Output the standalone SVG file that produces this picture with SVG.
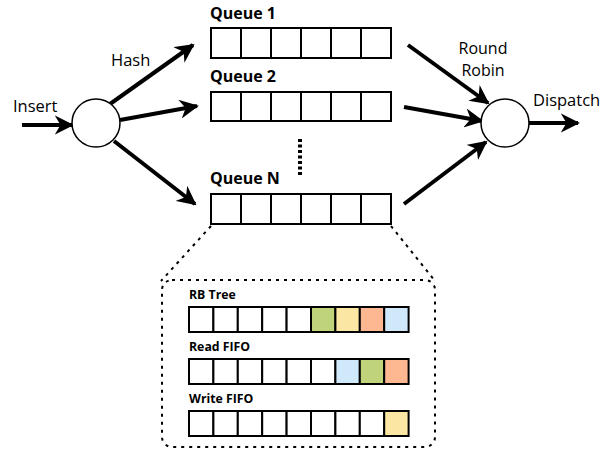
<svg xmlns="http://www.w3.org/2000/svg" width="613" height="451" viewBox="0 0 613 451">
  <defs>
    <marker id="ah" viewBox="0 0 10 10" refX="9" refY="5" markerWidth="4.8" markerHeight="4.8" markerUnits="strokeWidth" orient="auto">
      <path d="M0,0 L10,5 L0,10 L3,5 Z" fill="#000"/>
    </marker>
  </defs>
  <style>
    .lbl { font-family: "Open Sans", "Noto Sans", sans-serif; font-size: 16.5px; fill: #000; }
    .rr { font-size: 16px; }
    .qname { font-family: "Open Sans", "Noto Sans", sans-serif; font-size: 16px; font-weight: bold; fill: #000; }
    .sname { font-family: "Open Sans", "Noto Sans", sans-serif; font-size: 12.3px; font-weight: bold; fill: #000; }
    .cell { fill: #fff; stroke: #000; stroke-width: 2; }
    .scell { fill: #fff; stroke: #000; stroke-width: 2; }
    .node { fill: #fff; stroke: #000; stroke-width: 1.5; }
    .arr { stroke: #000; stroke-width: 4; fill: none; marker-end: url(#ah); }
    .dot { stroke: #000; stroke-width: 2; fill: none; stroke-dasharray: 3 5; }
    .g { fill: #bfd47a; } .y { fill: #fbe6a3; } .o { fill: #fdb891; } .b { fill: #cfe9fb; }
  </style>

  <!-- connectors -->
  <g id="connectors">
    <line class="arr" x1="22" y1="125" x2="72" y2="125"/>
    <line class="arr" x1="110" y1="104" x2="193" y2="45"/>
    <line class="arr" x1="120" y1="120" x2="197" y2="106"/>
    <line class="arr" x1="114" y1="141" x2="195" y2="204"/>
    <line class="arr" x1="408" y1="45" x2="488" y2="103"/>
    <line class="arr" x1="404" y1="107" x2="482" y2="121"/>
    <line class="arr" x1="404" y1="204" x2="486" y2="142"/>
    <line class="arr" x1="529" y1="123" x2="578" y2="123"/>
    <line x1="300" y1="139" x2="300" y2="176" stroke="#000" stroke-width="4" stroke-dasharray="3 2.5"/>
    <line class="dot" x1="211" y1="226" x2="161" y2="281"/>
    <line class="dot" x1="391" y1="226" x2="435" y2="281"/>
  </g>

  <!-- hash / dispatch nodes -->
  <g id="hash-node">
    <circle class="node" cx="96" cy="123" r="24"/>
    <text class="lbl" x="13" y="112">Insert</text>
    <text class="lbl" x="111" y="66">Hash</text>
  </g>
  <g id="dispatch-node">
    <circle class="node" cx="505" cy="123" r="24"/>
    <text class="lbl rr" x="483" y="54" text-anchor="middle">Round</text>
    <text class="lbl rr" x="483" y="76" text-anchor="middle">Robin</text>
    <text class="lbl" x="533" y="106">Dispatch</text>
  </g>

  <!-- queues -->
  <g id="queue-1">
    <text class="qname" x="210" y="19">Queue 1</text>
    <rect class="cell" x="211" y="28" width="30" height="30"/>
    <rect class="cell" x="241" y="28" width="30" height="30"/>
    <rect class="cell" x="271" y="28" width="30" height="30"/>
    <rect class="cell" x="301" y="28" width="30" height="30"/>
    <rect class="cell" x="331" y="28" width="30" height="30"/>
    <rect class="cell" x="361" y="28" width="30" height="30"/>
  </g>
  <g id="queue-2">
    <text class="qname" x="210" y="82">Queue 2</text>
    <rect class="cell" x="211" y="92" width="30" height="29"/>
    <rect class="cell" x="241" y="92" width="30" height="29"/>
    <rect class="cell" x="271" y="92" width="30" height="29"/>
    <rect class="cell" x="301" y="92" width="30" height="29"/>
    <rect class="cell" x="331" y="92" width="30" height="29"/>
    <rect class="cell" x="361" y="92" width="30" height="29"/>
  </g>
  <g id="queue-n">
    <text class="qname" x="210" y="184">Queue N</text>
    <rect class="cell" x="211" y="194" width="30" height="30"/>
    <rect class="cell" x="241" y="194" width="30" height="30"/>
    <rect class="cell" x="271" y="194" width="30" height="30"/>
    <rect class="cell" x="301" y="194" width="30" height="30"/>
    <rect class="cell" x="331" y="194" width="30" height="30"/>
    <rect class="cell" x="361" y="194" width="30" height="30"/>
  </g>

  <!-- expanded view of a queue -->
  <g id="queue-detail">
    <rect class="dot" x="162" y="280" width="273" height="167" rx="10"/>
    <text class="sname" x="189" y="299">RB Tree</text>
    <g id="rb-tree">
      <rect class="scell" x="189" y="307" width="24.4" height="25"/>
      <rect class="scell" x="213.4" y="307" width="24.4" height="25"/>
      <rect class="scell" x="237.8" y="307" width="24.4" height="25"/>
      <rect class="scell" x="262.2" y="307" width="24.4" height="25"/>
      <rect class="scell" x="286.6" y="307" width="24.4" height="25"/>
      <rect class="scell g" x="311" y="307" width="24.4" height="25"/>
      <rect class="scell y" x="335.4" y="307" width="24.4" height="25"/>
      <rect class="scell o" x="359.8" y="307" width="24.4" height="25"/>
      <rect class="scell b" x="384.2" y="307" width="24.4" height="25"/>
    </g>
    <text class="sname" x="189" y="351">Read FIFO</text>
    <g id="read-fifo">
      <rect class="scell" x="189" y="359" width="24.4" height="25"/>
      <rect class="scell" x="213.4" y="359" width="24.4" height="25"/>
      <rect class="scell" x="237.8" y="359" width="24.4" height="25"/>
      <rect class="scell" x="262.2" y="359" width="24.4" height="25"/>
      <rect class="scell" x="286.6" y="359" width="24.4" height="25"/>
      <rect class="scell" x="311" y="359" width="24.4" height="25"/>
      <rect class="scell b" x="335.4" y="359" width="24.4" height="25"/>
      <rect class="scell g" x="359.8" y="359" width="24.4" height="25"/>
      <rect class="scell o" x="384.2" y="359" width="24.4" height="25"/>
    </g>
    <text class="sname" x="189" y="403">Write FIFO</text>
    <g id="write-fifo">
      <rect class="scell" x="189" y="411" width="24.4" height="25"/>
      <rect class="scell" x="213.4" y="411" width="24.4" height="25"/>
      <rect class="scell" x="237.8" y="411" width="24.4" height="25"/>
      <rect class="scell" x="262.2" y="411" width="24.4" height="25"/>
      <rect class="scell" x="286.6" y="411" width="24.4" height="25"/>
      <rect class="scell" x="311" y="411" width="24.4" height="25"/>
      <rect class="scell" x="335.4" y="411" width="24.4" height="25"/>
      <rect class="scell" x="359.8" y="411" width="24.4" height="25"/>
      <rect class="scell y" x="384.2" y="411" width="24.4" height="25"/>
    </g>
  </g>
</svg>
